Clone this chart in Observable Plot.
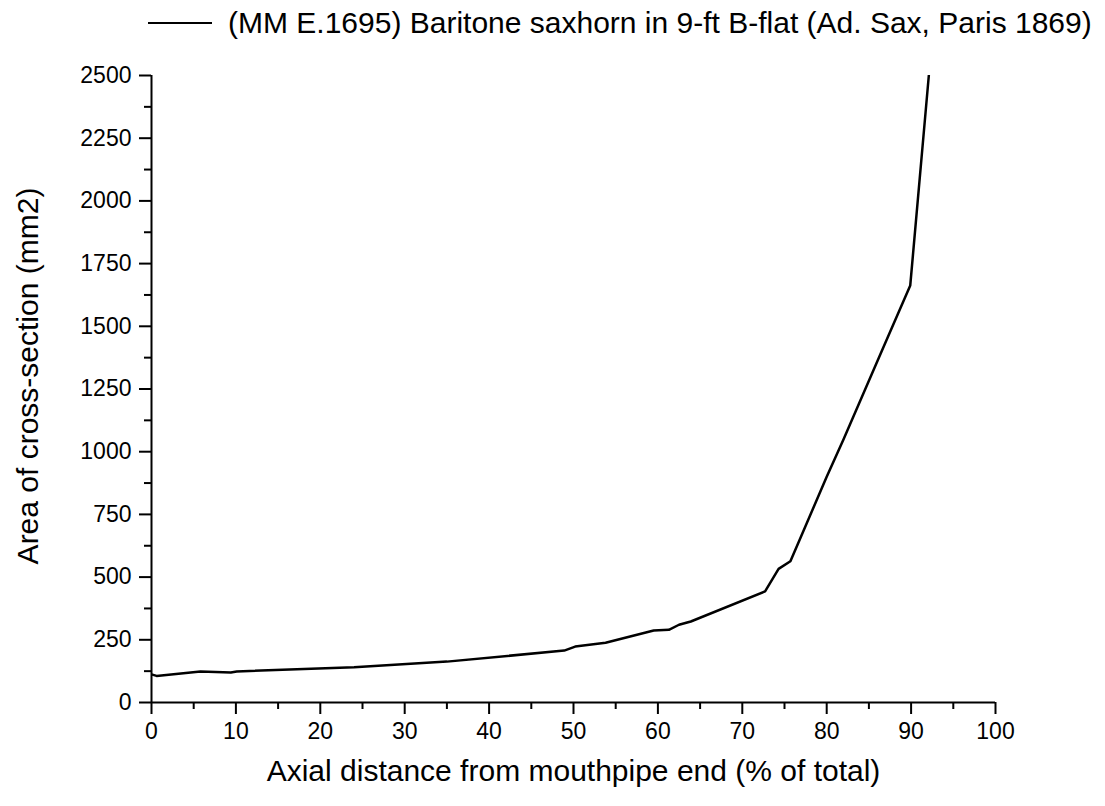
<!DOCTYPE html>
<html>
<head>
<meta charset="utf-8">
<script src="https://cdn.jsdelivr.net/npm/d3@7"></script>
<script src="https://cdn.jsdelivr.net/npm/@observablehq/plot@0.6"></script>
<style>
  html, body { margin: 0; padding: 0; background: #fff; }
  body { width: 1105px; height: 806px; overflow: hidden; font-family: "Liberation Sans", Arial, sans-serif; }
  #legend { height: 45px; display: flex; align-items: center; padding-left: 148px; box-sizing: border-box; }
  #legend .sw { width: 64px; height: 0; border-top: 2.5px solid #000; margin-right: 16px; }
  #legend .tx { font-size: 30px; color: #000; white-space: nowrap; }
</style>
</head>
<body>
<div id="legend"><span class="sw"></span><span class="tx"></span></div>
<div id="chart"></div>
<script>
const seriesName = "(MM E.1695) Baritone saxhorn in 9-ft B-flat (Ad. Sax, Paris 1869)";
const xLabel = "Axial distance from mouthpipe end (% of total)";
const yLabel = "Area of cross-section (mm2)";

const distance = [0, 0.6, 5.8, 9.4, 10.1, 24, 35, 48.9, 50.2, 53.8, 59.5, 61.3, 62.5, 63.9, 72.7, 74.3, 75.7, 77, 80, 82, 86.5, 89.9, 92.1];
const area     = [112, 106, 124, 120, 124, 141, 163, 207, 223, 238, 287, 290, 310, 323, 443, 533, 563, 665, 900, 1050, 1400, 1663, 2500];

const xMajor = [0, 10, 20, 30, 40, 50, 60, 70, 80, 90, 100];
const xMinor = [5, 15, 25, 35, 45, 55, 65, 75, 85, 95];
const yMajor = [0, 250, 500, 750, 1000, 1250, 1500, 1750, 2000, 2250, 2500];
const yMinor = [125, 375, 625, 875, 1125, 1375, 1625, 1875, 2125, 2375];

const data = distance.map((d, i) => ({x: d, y: area[i]}));

document.querySelector("#legend .tx").textContent = seriesName;

const chart = Plot.plot({
  width: 1105,
  height: 761,
  marginLeft: 151,
  marginRight: 110,
  marginTop: 30,
  marginBottom: 104,
  style: {fontFamily: "'Liberation Sans', Arial, sans-serif", fontSize: "23px", color: "#000", background: "#fff", overflow: "visible"},
  x: {domain: [0, 100]},
  y: {domain: [0, 2500]},
  marks: [
    Plot.axisX(xMajor, {tickSize: 12, tickPadding: 8, strokeWidth: 2, fontSize: 23, tickFormat: d3.format("d"), label: null}),
    Plot.axisX(xMinor, {tickSize: 7, strokeWidth: 2, tickFormat: () => "", label: null}),
    Plot.axisY(yMajor, {tickSize: 12, tickPadding: 8, strokeWidth: 2, fontSize: 23, tickFormat: d3.format("d"), label: null}),
    Plot.axisY(yMinor, {tickSize: 7, strokeWidth: 2, tickFormat: () => "", label: null}),
    Plot.ruleY([0], {stroke: "#000", strokeWidth: 2}),
    Plot.ruleX([0], {stroke: "#000", strokeWidth: 2}),
    Plot.line(data, {x: "x", y: "y", stroke: "#000", strokeWidth: 2.5, clip: true}),
    Plot.text([xLabel], {frameAnchor: "bottom", dy: 78, fontSize: 30, fill: "#000", textAnchor: "middle"}),
    Plot.text([yLabel], {frameAnchor: "left", dx: -123, dy: -13, rotate: -90, fontSize: 30, fill: "#000", textAnchor: "middle"})
  ]
});
document.getElementById("chart").appendChild(chart);
</script>
</body>
</html>
